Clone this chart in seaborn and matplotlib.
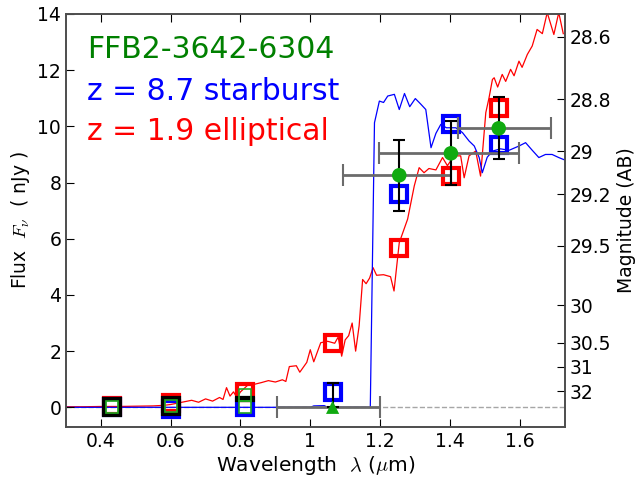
import numpy as np
import pandas as pd
import matplotlib
matplotlib.use("Agg")
import matplotlib.pyplot as plt
import seaborn as sns
from matplotlib.ticker import FixedLocator

# ---------------- data ----------------
# elliptical (z=1.9) model spectrum
ell_wave = [0.30, 0.35, 0.40, 0.45, 0.50, 0.55, 0.58, 0.60, 0.62, 0.64, 0.66, 0.68,
            0.70, 0.72, 0.74, 0.75, 0.76, 0.77, 0.78, 0.79, 0.80, 0.82, 0.84, 0.86,
            0.88, 0.90, 0.92, 0.93, 0.94, 0.96, 0.97, 0.99, 1.00, 1.01, 1.03, 1.05,
            1.07, 1.08, 1.09, 1.10, 1.11, 1.12, 1.13, 1.14, 1.15, 1.16, 1.17, 1.18,
            1.19, 1.21, 1.23, 1.24, 1.255, 1.279, 1.298, 1.312, 1.326, 1.34, 1.36,
            1.379, 1.393, 1.412, 1.431, 1.441, 1.455, 1.474, 1.488, 1.503, 1.512,
            1.522, 1.527, 1.537, 1.55, 1.56, 1.574, 1.584, 1.598, 1.607, 1.622,
            1.636, 1.65, 1.665, 1.679, 1.698, 1.712, 1.725]
ell_flux = [0.02, 0.02, 0.03, 0.03, 0.04, 0.05, 0.07, 0.10, 0.15, 0.20, 0.25, 0.18,
            0.30, 0.22, 0.35, 0.28, 0.70, 0.40, 0.55, 0.35, 0.55, 0.78, 0.82, 0.88,
            0.95, 0.90, 0.98, 0.92, 1.45, 1.48, 1.25, 1.60, 2.05, 1.62, 2.30, 2.35,
            2.28, 2.50, 1.82, 2.40, 2.55, 3.00, 2.00, 2.90, 4.55, 4.40, 4.60, 4.97,
            4.70, 4.72, 4.65, 4.14, 5.86, 6.70, 7.88, 8.53, 8.35, 8.50, 8.45,
            8.89, 8.60, 8.95, 8.95, 8.17, 8.95, 9.12, 8.23, 10.49, 11.00,
            11.67, 11.73, 11.40, 11.85, 11.60, 12.03, 11.80, 12.32, 12.10, 12.56,
            12.86, 13.45, 13.30, 14.05, 13.27, 14.05, 13.30]

# starburst (z=8.7) model spectrum
sb_wave = [0.30, 1.00, 1.01, 1.04, 1.05, 1.172, 1.184, 1.198, 1.21, 1.222, 1.241,
           1.255, 1.27, 1.285, 1.301, 1.316, 1.331, 1.346, 1.36, 1.374, 1.39,
           1.417, 1.436, 1.455, 1.47, 1.484, 1.493, 1.507, 1.522, 1.545, 1.57,
           1.598, 1.617, 1.636, 1.655, 1.674, 1.693, 1.712, 1.73]
sb_flux = [0.0, 0.0, 0.05, 0.06, 0.0, 0.0, 10.13, 10.90, 10.85, 11.08, 11.14,
           10.60, 11.17, 10.70, 10.99, 10.80, 10.60, 9.24, 9.75, 10.07, 9.95,
           9.95, 9.78, 9.48, 9.30, 8.89, 8.35, 8.90, 9.12, 9.20, 9.15,
           9.30, 9.42, 9.15, 8.89, 9.00, 9.00, 8.89, 8.80]

# band-averaged model fluxes
band_wave = [0.433, 0.601, 0.812, 1.064, 1.255, 1.403, 1.540]
ell_band = [0.03, 0.17, 0.56, 2.30, 5.68, 8.23, 10.65]
sb_band = [0.0, -0.05, 0.01, 0.55, 7.58, 10.07, 9.32]

# optical non-detections (black) and alternative fit (green small squares)
opt_wave = [0.433, 0.601]
opt_flux = [0.0, 0.05]
opt_lim_wave = [0.812]
opt_lim_flux = [0.28]
alt_wave = [0.433, 0.601, 0.812, 0.812]
alt_flux = [0.0, 0.05, 0.45, 0.0]

# observed NIR photometry
obs_wave = [1.255, 1.403, 1.540]
obs_flux = [8.26, 9.04, 9.93]
obs_err = [1.27, 1.14, 1.10]
obs_xlo = [0.162, 0.205, 0.118]
obs_xhi = [0.147, 0.195, 0.149]

# upper limit band
lim_wave = [1.064]
lim_flux = [0.0]
lim_err = [0.85]
lim_xlo = [0.159]
lim_xhi = [0.136]

mag_ticks = [28.6, 28.8, 29, 29.2, 29.5, 30, 30.5, 31, 32]
mag_labels = ["28.6", "28.8", "29", "29.2", "29.5", "30", "30.5", "31", "32"]

# ---------------- figure ----------------
plt.rcParams["font.family"] = ["DejaVu Sans"]
plt.rcParams["mathtext.fontset"] = "cm"
fig = plt.figure(figsize=(6.37, 4.79), dpi=100)
ax = fig.add_axes([0.1036, 0.1086, 0.7834, 0.8622])

ax.axhline(0, color="0.65", ls="--", lw=1, zorder=0)

ell_df = pd.DataFrame({"wave": ell_wave, "flux": ell_flux})
sb_df = pd.DataFrame({"wave": sb_wave, "flux": sb_flux})
sns.lineplot(data=ell_df, x="wave", y="flux", color="red", lw=0.9, ax=ax,
             estimator=None, sort=False, zorder=1)
sns.lineplot(data=sb_df, x="wave", y="flux", color="blue", lw=0.9, ax=ax,
             estimator=None, sort=False, zorder=1)

sq = dict(marker="s", ms=11.5, mew=3, mfc="none", ls="none")
ax.plot(band_wave, ell_band, mec="red", zorder=3, **sq)
ax.plot(band_wave, sb_band, mec="blue", zorder=4, **sq)
ax.plot(opt_wave, opt_flux, mec="black", zorder=5, **sq)
ax.plot(opt_lim_wave, opt_lim_flux, marker="_", ms=14, mew=4.5, color="black",
        ls="none", zorder=5)
ax.plot(alt_wave, alt_flux, marker="s", ms=8, mew=1.2, mfc="none", mec="#22aa22",
        ls="none", zorder=6)

# horizontal (band width) bars
ax.errorbar(obs_wave, obs_flux, xerr=[obs_xlo, obs_xhi], fmt="none", ecolor="0.42",
            elinewidth=2, capsize=8, capthick=1.5, zorder=7)
ax.errorbar(lim_wave, lim_flux, xerr=[lim_xlo, lim_xhi], fmt="none", ecolor="0.42",
            elinewidth=2, capsize=8, capthick=1.5, zorder=7)
# vertical flux errors
ax.errorbar(obs_wave, obs_flux, yerr=obs_err, fmt="none", ecolor="black",
            elinewidth=1.5, capsize=4, capthick=1.5, zorder=8)
ax.errorbar(lim_wave, lim_flux, yerr=[[0], lim_err], fmt="none", ecolor="black",
            elinewidth=1.5, capsize=4, capthick=1.5, zorder=8)

obs_df = pd.DataFrame({"wave": obs_wave, "flux": obs_flux})
sns.scatterplot(data=obs_df, x="wave", y="flux", color="#11aa11", s=110,
                edgecolor="none", ax=ax, zorder=9)
lim_df = pd.DataFrame({"wave": lim_wave, "flux": lim_flux})
sns.scatterplot(data=lim_df, x="wave", y="flux", color="#11aa11", marker="^",
                s=90, edgecolor="none", ax=ax, zorder=9)

ax.set_xlim(0.3, 1.73)
ax.set_ylim(-0.7, 14)
ax.set_xticks([0.4, 0.6, 0.8, 1.0, 1.2, 1.4, 1.6])
ax.set_xticklabels(["0.4", "0.6", "0.8", "1", "1.2", "1.4", "1.6"])
ax.set_yticks(range(0, 15, 2))
ax.tick_params(direction="in", length=6, labelsize=13.5, top=True, right=False)
ax.set_xlabel(r"Wavelength  $\lambda$ ($\mu$m)", fontsize=14.5, labelpad=2)
ax.set_ylabel(r"Flux  $F_\nu$  ( nJy )", fontsize=13.5, labelpad=4)

ax2 = ax.twinx()
ax2.set_ylim(ax.get_ylim())
ax2.yaxis.set_major_locator(FixedLocator([10 ** ((31.4 - m) / 2.5) for m in mag_ticks]))
ax2.set_yticklabels(mag_labels)
ax2.tick_params(direction="in", length=6, labelsize=13.5)
ax2.set_ylabel("Magnitude (AB)", fontsize=13.5, labelpad=4)

for spine in list(ax.spines.values()) + list(ax2.spines.values()):
    spine.set_color("0.3")
    spine.set_linewidth(1.2)

ax.text(0.042, 0.893, "FFB2-3642-6304", color="green", fontsize=21.5,
        transform=ax.transAxes, va="baseline")
ax.text(0.042, 0.792, "z = 8.7 starburst", color="blue", fontsize=21.5,
        transform=ax.transAxes, va="baseline")
ax.text(0.042, 0.695, "z = 1.9 elliptical", color="red", fontsize=21.5,
        transform=ax.transAxes, va="baseline")

fig.savefig("out.png", dpi=100)
